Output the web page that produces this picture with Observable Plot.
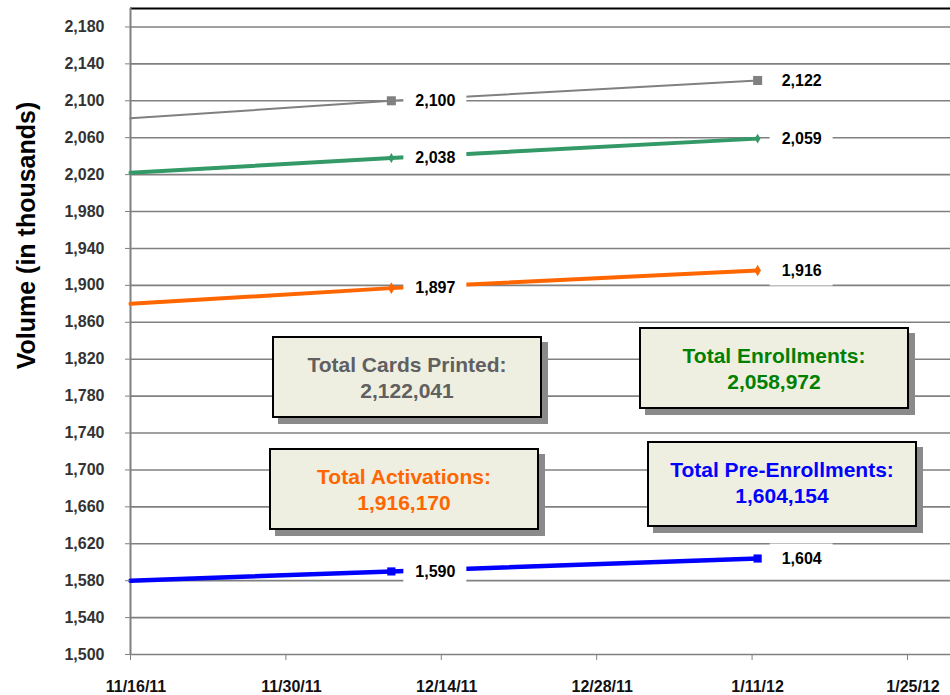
<!DOCTYPE html>
<html><head><meta charset="utf-8">
<script src="https://cdn.jsdelivr.net/npm/d3@7"></script>
<script src="https://cdn.jsdelivr.net/npm/@observablehq/plot@0.6"></script>
<style>
html,body{margin:0;padding:0;background:#fff;}
#wrap{position:relative;width:950px;height:695px;overflow:hidden;font-family:"Liberation Sans",Arial,sans-serif;}
.box{position:absolute;box-sizing:border-box;border:2px solid #000;background:#EFEFE1;box-shadow:6px 6px 0 #8a8a8a;text-align:center;font-weight:bold;font-size:21px;line-height:26px;padding-top:14px;white-space:nowrap;}
</style></head><body><div id="wrap"></div>
<script>
// ---- data ----
const dates = ["2011-11-16T00:00Z", "2011-12-09T12:00Z", "2012-01-11T12:00Z"];
const cardsPrinted   = [2081, 2100, 2122];
const enrollments    = [2022, 2038, 2059];
const activations    = [1880, 1897, 1916];
const preEnrollments = [1580, 1590, 1604];
const seriesNames = ["Total Cards Printed", "Total Enrollments", "Total Activations", "Total Pre-Enrollments"];
const xTickLabels = ["11/16/11", "11/30/11", "12/14/11", "12/28/11", "1/11/12", "1/25/12"];
const yTickValues = [1500,1540,1580,1620,1660,1700,1740,1780,1820,1860,1900,1940,1980,2020,2060,2100,2140,2180];
const boxTitles = ["Total Cards Printed:", "Total Activations:", "Total Enrollments:", "Total Pre-Enrollments:"];
const boxTotals = ["2,122,041", "1,916,170", "2,058,972", "1,604,154"];

// ---- styles ----
const seriesValues = [cardsPrinted, enrollments, activations, preEnrollments];
const seriesColors = ["#808080", "#339966", "#FF6600", "#0000FF"];
const seriesWidths = [2, 4, 4, 4.5];
const seriesSymbols = ["square", "diamond", "diamond", "square"];
const seriesR = [5.1, 3, 3.5, 4.6];
const boxColors = ["#606060", "#FF6600", "#008000", "#0000FF"];
const boxLayout = [
  {left: 272, top: 336, w: 270, h: 82},
  {left: 269, top: 448, w: 270, h: 82},
  {left: 639, top: 327, w: 270, h: 82},
  {left: 647, top: 441, w: 270, h: 86}
];

const parseTick = d3.utcParse("%m/%d/%y");
const xTicks = xTickLabels.map(parseTick);
const fmtComma = d3.format(",");

const rows = [];
seriesNames.forEach((name, s) => {
  seriesValues[s].forEach((v, i) => rows.push({series: name, s, i, date: d3.isoParse(dates[i]), value: v}));
});
const labelRows = rows.filter(d => d.i > 0);

const rectSymbol = {draw(ctx) { ctx.moveTo(-31.5, -15); ctx.lineTo(31.5, -15); ctx.lineTo(31.5, 15); ctx.lineTo(-31.5, 15); ctx.closePath(); }};

const marks = [
  Plot.gridY(yTickValues, {stroke: "#808080", strokeOpacity: 1, strokeWidth: 1.6}),
  Plot.ruleY([2200], {stroke: "#000", strokeWidth: 2.2}),
  Plot.ruleX([xTicks[0]], {stroke: "#808080", strokeWidth: 2})
];
seriesNames.forEach((name, s) => {
  const data = rows.filter(d => d.s === s);
  marks.push(Plot.line(data, {x: "date", y: "value", stroke: seriesColors[s], strokeWidth: seriesWidths[s]}));
  marks.push(Plot.dot(data.filter(d => d.i > 0), {x: "date", y: "value", symbol: seriesSymbols[s], r: seriesR[s], fill: seriesColors[s], stroke: "none"}));
});
marks.push(
  Plot.dot(labelRows, {x: "date", y: "value", symbol: rectSymbol, fill: "white", stroke: "none", r: 3, dx: 43.5}),
  Plot.text(labelRows, {x: "date", y: "value", text: d => fmtComma(d.value), dx: 24, textAnchor: "start", fontSize: 16, fontWeight: "bold", fill: "#000"}),
  Plot.axisY(yTickValues, {tickFormat: fmtComma, fontSize: 16, fontWeight: "bold", fill: "#333", stroke: "#808080", tickSize: 5, tickPadding: 21, label: null}),
  Plot.axisX(xTicks, {tickFormat: () => "", stroke: "#808080", tickSize: 6, label: null}),
  Plot.axisX(xTicks, {tickFormat: d3.utcFormat("%-m/%-d/%y"), fontSize: 16, fontWeight: "bold", fill: "#111", tickSize: 0, tickPadding: 26, dx: 5.5, label: null}),
  Plot.text(["Volume (in thousands)"], {frameAnchor: "left", textAnchor: "middle", rotate: -90, dx: -104, dy: -96, fontSize: 25, fontWeight: "bold", fill: "#000"})
);

const chart = Plot.plot({
  width: 950, height: 695,
  marginLeft: 130, marginRight: 0, marginTop: 8, marginBottom: 41,
  style: {fontFamily: "'Liberation Sans', Arial, sans-serif", background: "#fff", overflow: "visible"},
  x: {type: "utc", domain: [xTicks[0], new Date(Date.UTC(2012, 0, 28, 21))], label: null},
  y: {domain: [1500, 2200], label: null},
  marks
});
const wrap = document.getElementById("wrap");
wrap.appendChild(chart);

boxTitles.forEach((t, k) => {
  const b = document.createElement("div");
  b.className = "box";
  const L = boxLayout[k];
  b.style.left = L.left + "px"; b.style.top = L.top + "px";
  b.style.width = L.w + "px"; b.style.height = L.h + "px";
  b.style.color = boxColors[k];
  b.innerHTML = `<div>${t}</div><div>${boxTotals[k]}</div>`;
  wrap.appendChild(b);
});
</script></body></html>
